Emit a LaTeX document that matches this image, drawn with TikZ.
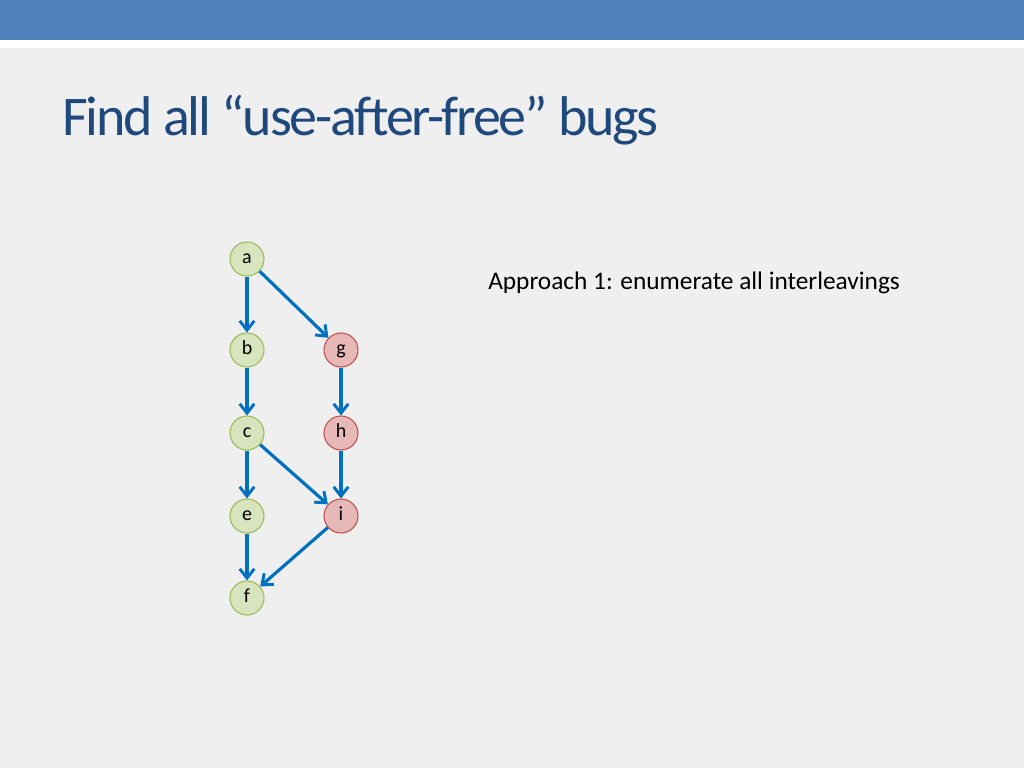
\documentclass[tikz,border=0pt]{standalone}
\usepackage{fontspec}
\setmainfont{Carlito}
\newfontfamily\titlefont[LetterSpace=-4]{Carlito}
\usetikzlibrary{arrows.meta}
\definecolor{bar}{HTML}{4F81BD}
\definecolor{bg}{HTML}{EFEFEF}
\definecolor{ttl}{HTML}{1F497D}
\definecolor{edge}{HTML}{0070C0}
\definecolor{gfill}{HTML}{D7E4BD}
\definecolor{gdraw}{HTML}{9BBB59}
\definecolor{rfill}{HTML}{E6B9B8}
\definecolor{rdraw}{HTML}{C0504D}
\begin{document}
\begin{tikzpicture}[x=0.75pt,y=-0.75pt,
  gnode/.style={circle,fill=gfill,draw=gdraw,line width=0.8pt,minimum size=25.5pt,inner sep=0pt,text height=8pt,text depth=2pt,font=\fontsize{15}{17}\selectfont},
  rnode/.style={gnode,fill=rfill,draw=rdraw},
  arr/.style={draw=edge,line width=2.4pt,-{Straight Barb[length=7pt,width=11pt,line width=2.2pt]}}]
\useasboundingbox (0,0) rectangle (1024,768);
\fill[white] (0,0) rectangle (1024,768);
\fill[bar] (0,0) rectangle (1024,40);
\fill[bg] (0,48) rectangle (1024,768);
\node[anchor=base west,inner sep=0pt,text=ttl,font=\titlefont\fontsize{42}{46}\selectfont] (title) at (62,135) {Find all “use-af{}ter-free” bugs};
\node[gnode] (a) at (247,259) {a};
\node[gnode] (b) at (247,350) {b};
\node[rnode] (g) at (341,350) {g};
\node[gnode] (c) at (247,433) {c};
\node[rnode] (h) at (341,433) {h};
\node[gnode] (e) at (247,516) {e};
\node[rnode] (i) at (341,516) {i};
\node[gnode] (f) at (247,598) {f};
\draw[arr] (a) -- (b);
\draw[arr] (a) -- (g);
\draw[arr] (b) -- (c);
\draw[arr] (g) -- (h);
\draw[arr] (c) -- (e);
\draw[arr] (c) -- (i);
\draw[arr] (h) -- (i);
\draw[arr] (e) -- (f);
\draw[arr] (i) -- (f);
\node[anchor=west,inner sep=0pt,font=\fontsize{19}{22}\selectfont] (lbl) at (488,283) {Approach 1: enumerate all interleavings};
\end{tikzpicture}
\end{document}
